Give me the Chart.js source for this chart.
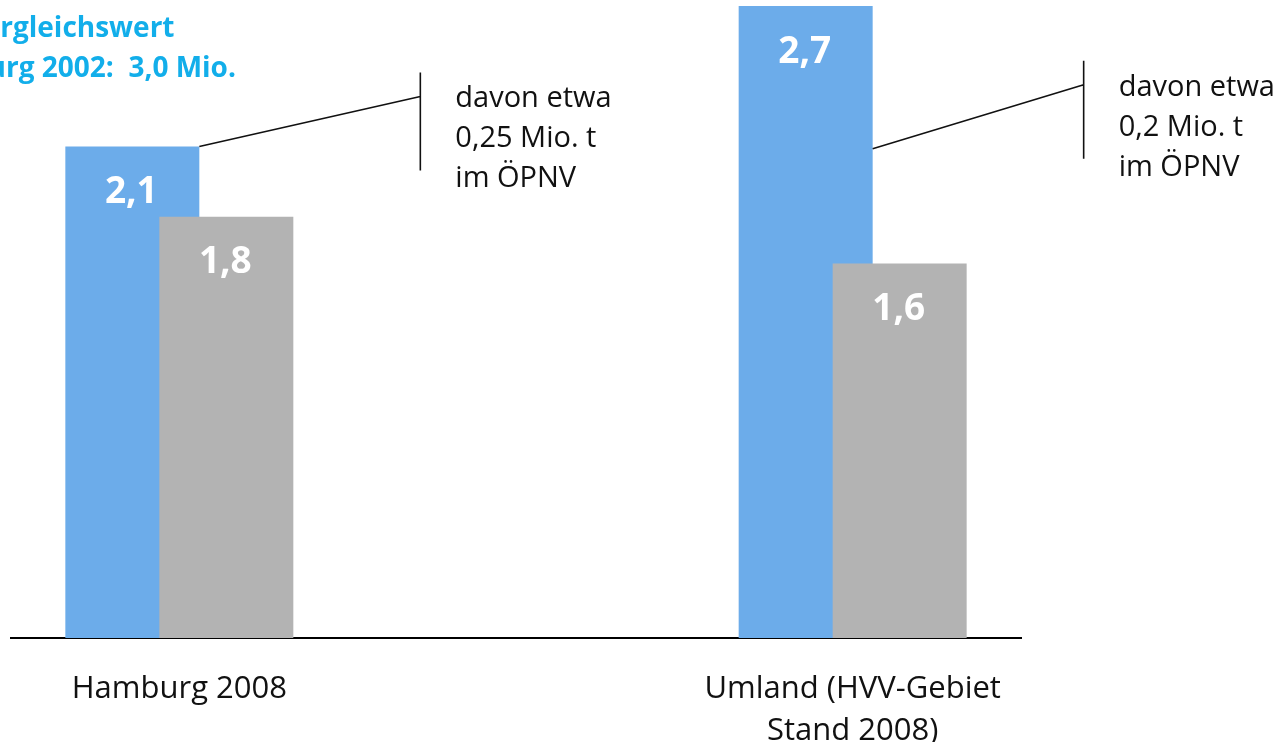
<!DOCTYPE html>
<html>
<head>
<meta charset="utf-8">
<script src="https://cdn.jsdelivr.net/npm/chart.js@4/dist/chart.umd.min.js"></script>
<style>
  html, body { margin: 0; padding: 0; background: #ffffff; }
  #wrap { width: 1284px; height: 742px; position: relative; }
</style>
</head>
<body>
<div id="wrap"><canvas id="chart"></canvas></div>
<script>
// Categories (the middle slot is an empty spacer between the two groups)
const categories = ['Hamburg 2008', '', ['Umland (HVV-Gebiet', 'Stand 2008)']];

// Series values, in Mio. t
const blueValues = [2.1, null, 2.7];
const greyValues = [1.8, null, 1.6];

// Side notes attached to the blue bars, and the value their leader line starts from
const noteTexts = [['davon etwa', '0,25 Mio. t', 'im ÖPNV'], null, ['davon etwa', '0,2 Mio. t', 'im ÖPNV']];
const noteAnchors = [2.1, null, 2.09];

// Heading in the upper left corner
const headingLines = ['Vergleichswert', 'Hamburg 2002:  3,0 Mio.'];

const FONT = "'Open Sans', 'Noto Sans', sans-serif";
const BLUE = '#6cacea';
const GREY = '#b3b3b3';
const CYAN = '#12aeea';

const fmt = v => v.toFixed(1).replace('.', ',');

// Paint the series in list order so the grey bars lie over the blue ones
const paintInOrder = {
  id: 'paintInOrder',
  beforeDatasetsDraw(chart) {
    chart.data.datasets.forEach((ds, i) => {
      const meta = chart.getDatasetMeta(i);
      if (!meta.hidden) meta.controller.draw();
    });
    return false;
  }
};

// Per-note leader geometry, relative to the blue bar's right edge
const noteLayout = [
  { dx: 221, dy: -50 },
  null,
  { dx: 211, dy: -64 }
];

const decorations = {
  id: 'decorations',
  afterDraw(chart) {
    const ctx = chart.ctx;
    const yScale = chart.scales.y;

    // white value labels inside the bars
    ctx.save();
    ctx.fillStyle = '#ffffff';
    ctx.font = `bold 37px ${FONT}`;
    ctx.textAlign = 'center';
    ctx.textBaseline = 'middle';
    chart.data.datasets.forEach((ds, di) => {
      const meta = chart.getDatasetMeta(di);
      ds.data.forEach((v, i) => {
        if (v == null) return;
        const bar = meta.data[i];
        ctx.fillText(fmt(v), bar.x - 1, bar.y + 46);
      });
    });
    ctx.restore();

    // leader lines, brackets and note texts
    const blueMeta = chart.getDatasetMeta(0);
    ctx.save();
    ctx.strokeStyle = '#111111';
    ctx.lineWidth = 1.6;
    ctx.fillStyle = '#111111';
    ctx.font = `29px ${FONT}`;
    ctx.textAlign = 'left';
    ctx.textBaseline = 'alphabetic';
    noteTexts.forEach((lines, i) => {
      if (!lines) return;
      const bar = blueMeta.data[i];
      const x0 = bar.x + bar.width / 2;
      const y0 = yScale.getPixelForValue(noteAnchors[i]);
      const tipX = x0 + noteLayout[i].dx;
      const tipY = y0 + noteLayout[i].dy;
      ctx.beginPath();
      ctx.moveTo(x0, y0);
      ctx.lineTo(tipX, tipY);
      ctx.moveTo(tipX, tipY - 24);
      ctx.lineTo(tipX, tipY + 74);
      ctx.stroke();
      lines.forEach((t, k) => ctx.fillText(t, tipX + 35, tipY + 11 + k * 40));
    });
    ctx.restore();

    // heading
    ctx.save();
    ctx.fillStyle = CYAN;
    ctx.font = `bold 28px ${FONT}`;
    ctx.textAlign = 'center';
    ctx.textBaseline = 'alphabetic';
    headingLines.forEach((t, k) => ctx.fillText(t, 70, 37 + k * 40));
    ctx.restore();
  }
};

new Chart(document.getElementById('chart'), {
  type: 'bar',
  data: {
    labels: categories,
    datasets: [
      { label: 'Reihe 1', data: blueValues, backgroundColor: BLUE, borderWidth: 0 },
      { label: 'Reihe 2', data: greyValues, backgroundColor: GREY, borderWidth: 0 }
    ]
  },
  options: {
    responsive: true,
    maintainAspectRatio: false,
    animation: false,
    devicePixelRatio: 1,
    categoryPercentage: 0.5584,
    barPercentage: 1.4255,
    layout: { padding: { left: 11, right: 263, top: 6, bottom: 0 } },
    plugins: { legend: { display: false }, tooltip: { enabled: false }, title: { display: false } },
    scales: {
      x: {
        z: 1,
        grid: { display: false, drawTicks: false },
        border: { display: true, color: '#000000', width: 2 },
        ticks: {
          color: '#111111',
          padding: 30,
          maxRotation: 0,
          autoSkip: false,
          font: { family: FONT, size: 31, lineHeight: 1.36 }
        },
        afterFit(scale) { scale.height = 104; }
      },
      y: {
        display: false,
        min: 0,
        max: 2.7
      }
    }
  },
  plugins: [paintInOrder, decorations]
});
</script>
</body>
</html>
